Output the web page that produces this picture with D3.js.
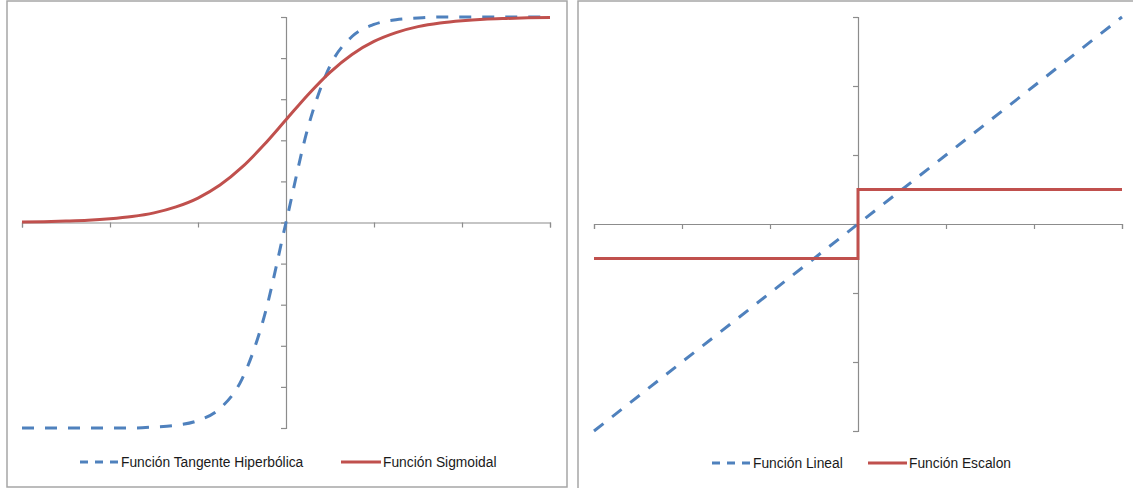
<!DOCTYPE html>
<html>
<head>
<meta charset="utf-8">
<script src="https://cdn.jsdelivr.net/npm/d3@7"></script>
<style>
  html, body { margin: 0; padding: 0; background: #fff; }
  svg { display: block; }
  text { font-family: "Liberation Sans", Arial, sans-serif; }
</style>
</head>
<body>
<svg id="chart" width="1133" height="488"></svg>
<script>
// ---- Data ----
const xValues = [-6, -5.5, -5, -4.5, -4, -3.5, -3, -2.5, -2, -1.5, -1, -0.5, 0,
                 0.5, 1, 1.5, 2, 2.5, 3, 3.5, 4, 4.5, 5, 5.5, 6];
const tanhValues = [-1.00, -1.00, -1.00, -1.00, -1.00, -1.00, -0.995, -0.987, -0.964, -0.905, -0.762, -0.462, 0,
                    0.462, 0.762, 0.905, 0.964, 0.987, 0.995, 1.00, 1.00, 1.00, 1.00, 1.00, 1.00];
const sigmoidValues = [0.002, 0.004, 0.007, 0.011, 0.018, 0.029, 0.047, 0.076, 0.119, 0.182, 0.269, 0.378, 0.5,
                       0.622, 0.731, 0.818, 0.881, 0.924, 0.953, 0.971, 0.982, 0.989, 0.993, 0.996, 0.998];
const leftXTicks = [-6, -4, -2, 0, 2, 4, 6];
const leftYTicks = [-1, -0.8, -0.6, -0.4, -0.2, 0, 0.2, 0.4, 0.6, 0.8, 1];
const leftSeriesNames = ["Función Tangente Hiperbólica", "Función Sigmoidal"];

const linealX = [-6, -4, -2, 0, 2, 4, 6];
const linealY = [-6, -4, -2, 0, 2, 4, 6];
const escalonX = [-6, 0, 0, 6];
const escalonY = [-1, -1, 1, 1];
const rightXTicks = [-6, -4, -2, 0, 2, 4, 6];
const rightYTicks = [-6, -4, -2, 0, 2, 4, 6];
const rightSeriesNames = ["Función Lineal", "Función Escalon"];

// ---- Styles ----
const BLUE = "#4f81bd";
const RED = "#c0504d";
const AXIS = "#8c8c8c";
const BORDER = "#a6a6a6";

const svg = d3.select("#chart");

// Panel borders
svg.append("rect").attr("x", 7).attr("y", 1).attr("width", 560).attr("height", 486)
  .attr("fill", "none").attr("stroke", BORDER).attr("stroke-width", 1.5);
svg.append("path").attr("d", "M578,488 V1 H1133")
  .attr("fill", "none").attr("stroke", BORDER).attr("stroke-width", 1.5);

function drawAxes(g, x, y, xTicks, yTicks) {
  const yAxis = g.append("g").attr("transform", `translate(${x(0)},0)`)
    .call(d3.axisLeft(y).tickValues(yTicks).tickSize(5).tickFormat(""));
  const xAxis = g.append("g").attr("transform", `translate(0,${y(0)})`)
    .call(d3.axisBottom(x).tickValues(xTicks).tickSize(5).tickFormat(""));
  [xAxis, yAxis].forEach(a => {
    a.selectAll("path").attr("stroke", AXIS).attr("stroke-width", 1.2);
    a.selectAll("line").attr("stroke", AXIS).attr("stroke-width", 1.2);
  });
}

function drawLegendItem(g, x1, x2, yc, color, dashed, label) {
  g.append("line").attr("x1", x1).attr("x2", x2).attr("y1", yc).attr("y2", yc)
    .attr("stroke", color).attr("stroke-width", 3)
    .attr("stroke-dasharray", dashed ? "8,7" : null);
  g.append("text").attr("x", x2 + 2).attr("y", yc).attr("dy", "0.35em")
    .attr("font-size", 13.8).attr("fill", "#1a1a1a").text(label);
}

// ---- Left chart ----
{
  const g = svg.append("g");
  const x = d3.scaleLinear().domain([-6, 6]).range([22, 550]);
  const y = d3.scaleLinear().domain([-1, 1]).range([428, 17]);
  drawAxes(g, x, y, leftXTicks, leftYTicks);

  const line = (ys) => d3.line().curve(d3.curveMonotoneX)
    .x((d, i) => x(xValues[i])).y(d => y(d))(ys);

  g.append("path").attr("d", line(tanhValues)).attr("fill", "none")
    .attr("stroke", BLUE).attr("stroke-width", 3).attr("stroke-dasharray", "12,11");
  g.append("path").attr("d", line(sigmoidValues)).attr("fill", "none")
    .attr("stroke", RED).attr("stroke-width", 3);

  drawLegendItem(g, 80, 119, 462, BLUE, true, leftSeriesNames[0]);
  drawLegendItem(g, 341, 381, 462, RED, false, leftSeriesNames[1]);
}

// ---- Right chart ----
{
  const g = svg.append("g");
  const x = d3.scaleLinear().domain([-6, 6]).range([594, 1122]);
  const y = d3.scaleLinear().domain([-6, 6]).range([431, 17]);
  drawAxes(g, x, y, rightXTicks, rightYTicks);

  g.append("path")
    .attr("d", d3.line().x((d, i) => x(linealX[i])).y(d => y(d))(linealY))
    .attr("fill", "none").attr("stroke", BLUE).attr("stroke-width", 3)
    .attr("stroke-dasharray", "12,11");
  g.append("path")
    .attr("d", d3.line().x((d, i) => x(escalonX[i])).y(d => y(d))(escalonY))
    .attr("fill", "none").attr("stroke", RED).attr("stroke-width", 3);

  drawLegendItem(g, 712, 751, 463, BLUE, true, rightSeriesNames[0]);
  drawLegendItem(g, 868, 907, 463, RED, false, rightSeriesNames[1]);
}
</script>
</body>
</html>
